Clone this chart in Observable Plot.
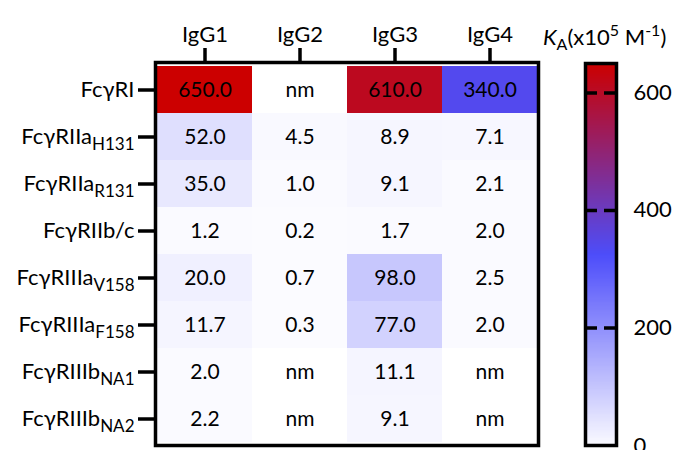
<!DOCTYPE html>
<html>
<head>
<meta charset="utf-8">
<script src="https://cdn.jsdelivr.net/npm/d3@7"></script>
<script src="https://cdn.jsdelivr.net/npm/@observablehq/plot@0.6"></script>
<style>
  html, body { margin: 0; padding: 0; background: #fff; }
  #wrap { position: relative; width: 676px; height: 450px; overflow: hidden; font-family: Lato, sans-serif; }
  #main { position: absolute; left: 0; top: 0; }
  #bar { position: absolute; left: 560px; top: 0; }
  #cbtitle { position: absolute; left: 543px; top: 22px; font-size: 22px; color: #000; white-space: nowrap; line-height: 1; }
  #cbtitle sub, #cbtitle sup { font-size: 16px; }
  #cbtitle sub { vertical-align: -5px; }
  #cbtitle sup { vertical-align: 9px; }
</style>
</head>
<body>
<div id="wrap">
  <div id="main"></div>
  <div id="bar"></div>
  <div id="cbtitle"><i>K</i><sub>A</sub>(x10<sup>5</sup> M<sup>-1</sup>)</div>
</div>
<script>
// ---- data ----
const subclasses = ["IgG1", "IgG2", "IgG3", "IgG4"];
const receptors = ["FcγRI", "FcγRIIa_H131", "FcγRIIa_R131", "FcγRIIb/c", "FcγRIIIa_V158", "FcγRIIIa_F158", "FcγRIIIb_NA1", "FcγRIIIb_NA2"];
const igg1 = [650.0, 52.0, 35.0, 1.2, 20.0, 11.7, 2.0, 2.2];
const igg2 = [null, 4.5, 1.0, 0.2, 0.7, 0.3, null, null];
const igg3 = [610.0, 8.9, 9.1, 1.7, 98.0, 77.0, 11.1, 9.1];
const igg4 = [340.0, 7.1, 2.1, 2.0, 2.5, 2.0, null, null];
const colorTicks = [0, 200, 400, 600];
const colorDomain = [0, 325, 650];
const colorRange = ["#fbfbff", "#4d4dfa", "#cc0000"];

const series = [igg1, igg2, igg3, igg4];
const table = receptors.flatMap((r, i) => subclasses.map((s, j) => ({receptor: r, subclass: s, value: series[j][i]})));
const fmt = d3.format(".1f");

const colorScale = {type: "linear", domain: colorDomain, range: colorRange, interpolate: "rgb"};

const main = Plot.plot({
  width: 560, height: 450,
  marginLeft: 155, marginTop: 62, marginRight: 22, marginBottom: 5,
  style: {fontFamily: "Lato, sans-serif", color: "#000", background: "transparent", overflow: "visible"},
  x: {domain: subclasses, padding: 0, axis: null},
  y: {domain: receptors, padding: 0, axis: null},
  color: colorScale,
  marks: [
    Plot.cell(table.filter(d => d.value != null), {x: "subclass", y: "receptor", fill: "value"}),
    Plot.text(table, {x: "subclass", y: "receptor", text: d => d.value == null ? "nm" : fmt(d.value), fontSize: 21, fill: "#000"}),
    Plot.frame({strokeWidth: 3.5, stroke: "#000"}),
    Plot.axisX({anchor: "top", tickSize: 15, strokeWidth: 3.5, tickPadding: 6, fontSize: 22, label: null}),
    Plot.axisY({anchor: "left", tickSize: 17, strokeWidth: 3.5, tickPadding: 4, fontSize: 22, label: null})
  ]
});
document.getElementById("main").appendChild(main);

// subscripts on receptor labels
main.querySelectorAll('g[aria-label="y-axis tick label"] text').forEach(t => {
  const s = t.textContent;
  if (s.includes("_")) {
    const [a, b] = s.split("_");
    t.textContent = "";
    const ns = "http://www.w3.org/2000/svg";
    const t1 = document.createElementNS(ns, "tspan"); t1.textContent = a;
    const t2 = document.createElementNS(ns, "tspan"); t2.textContent = b;
    t2.setAttribute("font-size", "17"); t2.setAttribute("dy", "0.35em");
    t.appendChild(t1); t.appendChild(t2);
  }
});

const bar = Plot.plot({
  width: 116, height: 450,
  marginLeft: 25, marginRight: 60, marginTop: 63, marginBottom: 5,
  style: {fontFamily: "Lato, sans-serif", color: "#000", background: "transparent", overflow: "visible"},
  x: {domain: [0, 1], axis: null},
  y: {domain: [colorDomain[0], colorDomain[2]], axis: null},
  color: colorScale,
  marks: [
    Plot.raster({fill: (x, y) => y, x1: 0, x2: 1, y1: colorDomain[0], y2: colorDomain[2], width: 1, height: 300, imageRendering: "auto"}),
    Plot.ruleY(colorTicks.filter(d => d > 0), {strokeWidth: 3.5, strokeDasharray: "12,7"}),
    Plot.frame({strokeWidth: 3.5, stroke: "#000"}),
    Plot.axisY({anchor: "right", ticks: colorTicks, tickSize: 0, tickPadding: 17, fontSize: 22, label: null})
  ]
});
document.getElementById("bar").appendChild(bar);
</script>
</body>
</html>
